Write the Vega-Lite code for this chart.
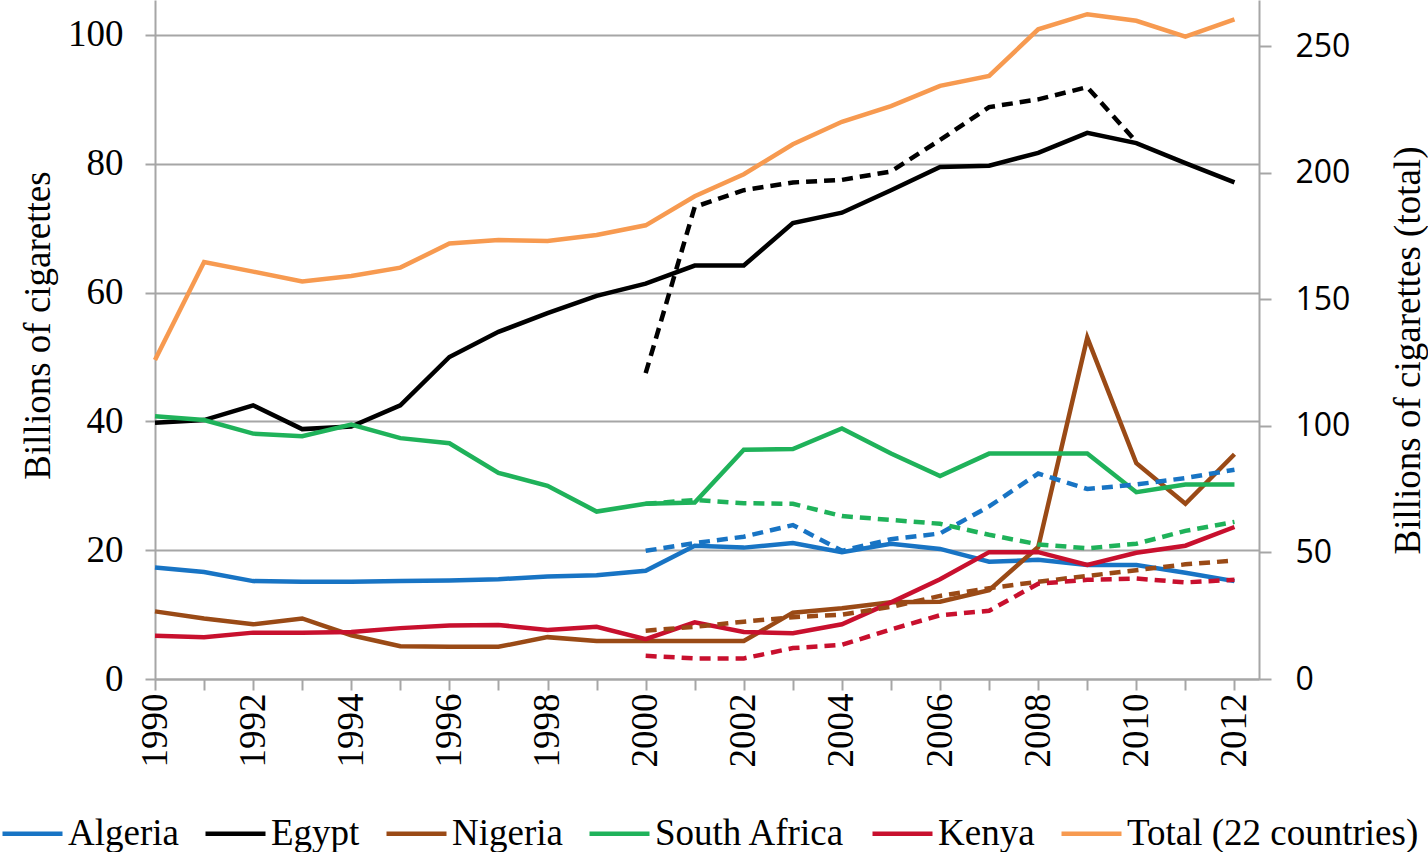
{
  "$schema": "https://vega.github.io/schema/vega-lite/v6.json",
  "autosize": "none",
  "width": 1104,
  "height": 679,
  "padding": {"left": 155, "top": 0, "right": 169, "bottom": 173},
  "background": "white",
  "config": {
    "view": {"stroke": null},
    "axis": {
      "domainColor": "#A6A6A6",
      "domainWidth": 2,
      "tickColor": "#A6A6A6",
      "tickWidth": 2,
      "gridColor": "#A6A6A6",
      "gridWidth": 2,
      "labelColor": "black",
      "titleColor": "black",
      "labelFont": "Liberation Serif",
      "titleFont": "Liberation Serif",
      "labelFontSize": 37,
      "titleFontSize": 37,
      "titleFontWeight": "normal"
    },
    "legend": {
      "orient": "none",
      "legendX": -155,
      "legendY": 801,
      "direction": "horizontal",
      "padding": 0,
      "symbolType": "stroke",
      "symbolSize": 3600,
      "symbolStrokeWidth": 4.5,
      "labelFont": "Liberation Serif",
      "labelFontSize": 37,
      "labelColor": "black",
      "labelOffset": 3,
      "labelLimit": 0,
      "columnPadding": 17,
      "title": null
    }
  },
  "data": {
    "values": [
      {"year": 1990, "series": "Algeria", "kind": "solid", "value": 17.3},
      {"year": 1991, "series": "Algeria", "kind": "solid", "value": 16.6},
      {"year": 1992, "series": "Algeria", "kind": "solid", "value": 15.2},
      {"year": 1993, "series": "Algeria", "kind": "solid", "value": 15.1},
      {"year": 1994, "series": "Algeria", "kind": "solid", "value": 15.1},
      {"year": 1995, "series": "Algeria", "kind": "solid", "value": 15.2},
      {"year": 1996, "series": "Algeria", "kind": "solid", "value": 15.3},
      {"year": 1997, "series": "Algeria", "kind": "solid", "value": 15.5},
      {"year": 1998, "series": "Algeria", "kind": "solid", "value": 15.9},
      {"year": 1999, "series": "Algeria", "kind": "solid", "value": 16.1},
      {"year": 2000, "series": "Algeria", "kind": "solid", "value": 16.8},
      {"year": 2001, "series": "Algeria", "kind": "solid", "value": 20.7},
      {"year": 2002, "series": "Algeria", "kind": "solid", "value": 20.4},
      {"year": 2003, "series": "Algeria", "kind": "solid", "value": 21.1},
      {"year": 2004, "series": "Algeria", "kind": "solid", "value": 19.7},
      {"year": 2005, "series": "Algeria", "kind": "solid", "value": 21.0},
      {"year": 2006, "series": "Algeria", "kind": "solid", "value": 20.2},
      {"year": 2007, "series": "Algeria", "kind": "solid", "value": 18.2},
      {"year": 2008, "series": "Algeria", "kind": "solid", "value": 18.5},
      {"year": 2009, "series": "Algeria", "kind": "solid", "value": 17.7},
      {"year": 2010, "series": "Algeria", "kind": "solid", "value": 17.7},
      {"year": 2011, "series": "Algeria", "kind": "solid", "value": 16.5},
      {"year": 2012, "series": "Algeria", "kind": "solid", "value": 15.2},
      {"year": 2000, "series": "Algeria", "kind": "dashed", "value": 19.9},
      {"year": 2001, "series": "Algeria", "kind": "dashed", "value": 21.1},
      {"year": 2002, "series": "Algeria", "kind": "dashed", "value": 22.1},
      {"year": 2003, "series": "Algeria", "kind": "dashed", "value": 23.9},
      {"year": 2004, "series": "Algeria", "kind": "dashed", "value": 19.9},
      {"year": 2005, "series": "Algeria", "kind": "dashed", "value": 21.7},
      {"year": 2006, "series": "Algeria", "kind": "dashed", "value": 22.6},
      {"year": 2007, "series": "Algeria", "kind": "dashed", "value": 26.8},
      {"year": 2008, "series": "Algeria", "kind": "dashed", "value": 31.9},
      {"year": 2009, "series": "Algeria", "kind": "dashed", "value": 29.5},
      {"year": 2010, "series": "Algeria", "kind": "dashed", "value": 30.2},
      {"year": 2011, "series": "Algeria", "kind": "dashed", "value": 31.2},
      {"year": 2012, "series": "Algeria", "kind": "dashed", "value": 32.5},
      {"year": 1990, "series": "Egypt", "kind": "solid", "value": 39.8},
      {"year": 1991, "series": "Egypt", "kind": "solid", "value": 40.2},
      {"year": 1992, "series": "Egypt", "kind": "solid", "value": 42.5},
      {"year": 1993, "series": "Egypt", "kind": "solid", "value": 38.8},
      {"year": 1994, "series": "Egypt", "kind": "solid", "value": 39.2},
      {"year": 1995, "series": "Egypt", "kind": "solid", "value": 42.5},
      {"year": 1996, "series": "Egypt", "kind": "solid", "value": 50.0},
      {"year": 1997, "series": "Egypt", "kind": "solid", "value": 53.9},
      {"year": 1998, "series": "Egypt", "kind": "solid", "value": 56.8},
      {"year": 1999, "series": "Egypt", "kind": "solid", "value": 59.5},
      {"year": 2000, "series": "Egypt", "kind": "solid", "value": 61.4},
      {"year": 2001, "series": "Egypt", "kind": "solid", "value": 64.2},
      {"year": 2002, "series": "Egypt", "kind": "solid", "value": 64.2},
      {"year": 2003, "series": "Egypt", "kind": "solid", "value": 70.8},
      {"year": 2004, "series": "Egypt", "kind": "solid", "value": 72.4},
      {"year": 2005, "series": "Egypt", "kind": "solid", "value": 75.9},
      {"year": 2006, "series": "Egypt", "kind": "solid", "value": 79.5},
      {"year": 2007, "series": "Egypt", "kind": "solid", "value": 79.7},
      {"year": 2008, "series": "Egypt", "kind": "solid", "value": 81.7},
      {"year": 2009, "series": "Egypt", "kind": "solid", "value": 84.8},
      {"year": 2010, "series": "Egypt", "kind": "solid", "value": 83.2},
      {"year": 2011, "series": "Egypt", "kind": "solid", "value": 80.1},
      {"year": 2012, "series": "Egypt", "kind": "solid", "value": 77.1},
      {"year": 2000, "series": "Egypt", "kind": "dashed", "value": 47.5},
      {"year": 2001, "series": "Egypt", "kind": "dashed", "value": 73.3},
      {"year": 2002, "series": "Egypt", "kind": "dashed", "value": 75.9},
      {"year": 2003, "series": "Egypt", "kind": "dashed", "value": 77.1},
      {"year": 2004, "series": "Egypt", "kind": "dashed", "value": 77.5},
      {"year": 2005, "series": "Egypt", "kind": "dashed", "value": 78.8},
      {"year": 2006, "series": "Egypt", "kind": "dashed", "value": 83.7},
      {"year": 2007, "series": "Egypt", "kind": "dashed", "value": 88.8},
      {"year": 2008, "series": "Egypt", "kind": "dashed", "value": 90.0},
      {"year": 2009, "series": "Egypt", "kind": "dashed", "value": 91.9},
      {"year": 2010, "series": "Egypt", "kind": "dashed", "value": 83.4},
      {"year": 1990, "series": "Nigeria", "kind": "solid", "value": 10.5},
      {"year": 1991, "series": "Nigeria", "kind": "solid", "value": 9.4},
      {"year": 1992, "series": "Nigeria", "kind": "solid", "value": 8.5},
      {"year": 1993, "series": "Nigeria", "kind": "solid", "value": 9.4},
      {"year": 1994, "series": "Nigeria", "kind": "solid", "value": 6.8},
      {"year": 1995, "series": "Nigeria", "kind": "solid", "value": 5.1},
      {"year": 1996, "series": "Nigeria", "kind": "solid", "value": 5.0},
      {"year": 1997, "series": "Nigeria", "kind": "solid", "value": 5.0},
      {"year": 1998, "series": "Nigeria", "kind": "solid", "value": 6.5},
      {"year": 1999, "series": "Nigeria", "kind": "solid", "value": 5.9},
      {"year": 2000, "series": "Nigeria", "kind": "solid", "value": 5.9},
      {"year": 2001, "series": "Nigeria", "kind": "solid", "value": 5.9},
      {"year": 2002, "series": "Nigeria", "kind": "solid", "value": 5.9},
      {"year": 2003, "series": "Nigeria", "kind": "solid", "value": 10.3},
      {"year": 2004, "series": "Nigeria", "kind": "solid", "value": 11.0},
      {"year": 2005, "series": "Nigeria", "kind": "solid", "value": 11.9},
      {"year": 2006, "series": "Nigeria", "kind": "solid", "value": 12.0},
      {"year": 2007, "series": "Nigeria", "kind": "solid", "value": 13.8},
      {"year": 2008, "series": "Nigeria", "kind": "solid", "value": 20.5},
      {"year": 2009, "series": "Nigeria", "kind": "solid", "value": 53.0},
      {"year": 2010, "series": "Nigeria", "kind": "solid", "value": 33.5},
      {"year": 2011, "series": "Nigeria", "kind": "solid", "value": 27.2},
      {"year": 2012, "series": "Nigeria", "kind": "solid", "value": 34.9},
      {"year": 2000, "series": "Nigeria", "kind": "dashed", "value": 7.5},
      {"year": 2001, "series": "Nigeria", "kind": "dashed", "value": 8.1},
      {"year": 2002, "series": "Nigeria", "kind": "dashed", "value": 8.9},
      {"year": 2003, "series": "Nigeria", "kind": "dashed", "value": 9.6},
      {"year": 2004, "series": "Nigeria", "kind": "dashed", "value": 10.0},
      {"year": 2005, "series": "Nigeria", "kind": "dashed", "value": 11.2},
      {"year": 2006, "series": "Nigeria", "kind": "dashed", "value": 12.9},
      {"year": 2007, "series": "Nigeria", "kind": "dashed", "value": 14.1},
      {"year": 2008, "series": "Nigeria", "kind": "dashed", "value": 15.1},
      {"year": 2009, "series": "Nigeria", "kind": "dashed", "value": 16.0},
      {"year": 2010, "series": "Nigeria", "kind": "dashed", "value": 16.9},
      {"year": 2011, "series": "Nigeria", "kind": "dashed", "value": 17.8},
      {"year": 2012, "series": "Nigeria", "kind": "dashed", "value": 18.4},
      {"year": 1990, "series": "South Africa", "kind": "solid", "value": 40.8},
      {"year": 1991, "series": "South Africa", "kind": "solid", "value": 40.2},
      {"year": 1992, "series": "South Africa", "kind": "solid", "value": 38.1},
      {"year": 1993, "series": "South Africa", "kind": "solid", "value": 37.7},
      {"year": 1994, "series": "South Africa", "kind": "solid", "value": 39.5},
      {"year": 1995, "series": "South Africa", "kind": "solid", "value": 37.4},
      {"year": 1996, "series": "South Africa", "kind": "solid", "value": 36.6},
      {"year": 1997, "series": "South Africa", "kind": "solid", "value": 32.0},
      {"year": 1998, "series": "South Africa", "kind": "solid", "value": 30.0},
      {"year": 1999, "series": "South Africa", "kind": "solid", "value": 26.0},
      {"year": 2000, "series": "South Africa", "kind": "solid", "value": 27.2},
      {"year": 2001, "series": "South Africa", "kind": "solid", "value": 27.4},
      {"year": 2002, "series": "South Africa", "kind": "solid", "value": 35.6},
      {"year": 2003, "series": "South Africa", "kind": "solid", "value": 35.7},
      {"year": 2004, "series": "South Africa", "kind": "solid", "value": 38.9},
      {"year": 2005, "series": "South Africa", "kind": "solid", "value": 35.0},
      {"year": 2006, "series": "South Africa", "kind": "solid", "value": 31.5},
      {"year": 2007, "series": "South Africa", "kind": "solid", "value": 35.0},
      {"year": 2008, "series": "South Africa", "kind": "solid", "value": 35.0},
      {"year": 2009, "series": "South Africa", "kind": "solid", "value": 35.0},
      {"year": 2010, "series": "South Africa", "kind": "solid", "value": 29.0},
      {"year": 2011, "series": "South Africa", "kind": "solid", "value": 30.2},
      {"year": 2012, "series": "South Africa", "kind": "solid", "value": 30.2},
      {"year": 2000, "series": "South Africa", "kind": "dashed", "value": 27.2},
      {"year": 2001, "series": "South Africa", "kind": "dashed", "value": 27.8},
      {"year": 2002, "series": "South Africa", "kind": "dashed", "value": 27.3},
      {"year": 2003, "series": "South Africa", "kind": "dashed", "value": 27.2},
      {"year": 2004, "series": "South Africa", "kind": "dashed", "value": 25.3},
      {"year": 2005, "series": "South Africa", "kind": "dashed", "value": 24.7},
      {"year": 2006, "series": "South Africa", "kind": "dashed", "value": 24.1},
      {"year": 2007, "series": "South Africa", "kind": "dashed", "value": 22.4},
      {"year": 2008, "series": "South Africa", "kind": "dashed", "value": 20.9},
      {"year": 2009, "series": "South Africa", "kind": "dashed", "value": 20.3},
      {"year": 2010, "series": "South Africa", "kind": "dashed", "value": 21.0},
      {"year": 2011, "series": "South Africa", "kind": "dashed", "value": 23.0},
      {"year": 2012, "series": "South Africa", "kind": "dashed", "value": 24.4},
      {"year": 1990, "series": "Kenya", "kind": "solid", "value": 6.7},
      {"year": 1991, "series": "Kenya", "kind": "solid", "value": 6.5},
      {"year": 1992, "series": "Kenya", "kind": "solid", "value": 7.2},
      {"year": 1993, "series": "Kenya", "kind": "solid", "value": 7.2},
      {"year": 1994, "series": "Kenya", "kind": "solid", "value": 7.3},
      {"year": 1995, "series": "Kenya", "kind": "solid", "value": 7.9},
      {"year": 1996, "series": "Kenya", "kind": "solid", "value": 8.3},
      {"year": 1997, "series": "Kenya", "kind": "solid", "value": 8.4},
      {"year": 1998, "series": "Kenya", "kind": "solid", "value": 7.6},
      {"year": 1999, "series": "Kenya", "kind": "solid", "value": 8.1},
      {"year": 2000, "series": "Kenya", "kind": "solid", "value": 6.2},
      {"year": 2001, "series": "Kenya", "kind": "solid", "value": 8.8},
      {"year": 2002, "series": "Kenya", "kind": "solid", "value": 7.3},
      {"year": 2003, "series": "Kenya", "kind": "solid", "value": 7.1},
      {"year": 2004, "series": "Kenya", "kind": "solid", "value": 8.5},
      {"year": 2005, "series": "Kenya", "kind": "solid", "value": 11.9},
      {"year": 2006, "series": "Kenya", "kind": "solid", "value": 15.5},
      {"year": 2007, "series": "Kenya", "kind": "solid", "value": 19.7},
      {"year": 2008, "series": "Kenya", "kind": "solid", "value": 19.7},
      {"year": 2009, "series": "Kenya", "kind": "solid", "value": 17.7},
      {"year": 2010, "series": "Kenya", "kind": "solid", "value": 19.6},
      {"year": 2011, "series": "Kenya", "kind": "solid", "value": 20.7},
      {"year": 2012, "series": "Kenya", "kind": "solid", "value": 23.6},
      {"year": 2000, "series": "Kenya", "kind": "dashed", "value": 3.6},
      {"year": 2001, "series": "Kenya", "kind": "dashed", "value": 3.2},
      {"year": 2002, "series": "Kenya", "kind": "dashed", "value": 3.2},
      {"year": 2003, "series": "Kenya", "kind": "dashed", "value": 4.8},
      {"year": 2004, "series": "Kenya", "kind": "dashed", "value": 5.3},
      {"year": 2005, "series": "Kenya", "kind": "dashed", "value": 7.7},
      {"year": 2006, "series": "Kenya", "kind": "dashed", "value": 9.9},
      {"year": 2007, "series": "Kenya", "kind": "dashed", "value": 10.6},
      {"year": 2008, "series": "Kenya", "kind": "dashed", "value": 14.8},
      {"year": 2009, "series": "Kenya", "kind": "dashed", "value": 15.4},
      {"year": 2010, "series": "Kenya", "kind": "dashed", "value": 15.6},
      {"year": 2011, "series": "Kenya", "kind": "dashed", "value": 15.0},
      {"year": 2012, "series": "Kenya", "kind": "dashed", "value": 15.4},
      {"year": 1990, "series": "Total (22 countries)", "kind": "total", "value": 126.0},
      {"year": 1991, "series": "Total (22 countries)", "kind": "total", "value": 164.7},
      {"year": 1992, "series": "Total (22 countries)", "kind": "total", "value": 160.9},
      {"year": 1993, "series": "Total (22 countries)", "kind": "total", "value": 157.0},
      {"year": 1994, "series": "Total (22 countries)", "kind": "total", "value": 159.2},
      {"year": 1995, "series": "Total (22 countries)", "kind": "total", "value": 162.5},
      {"year": 1996, "series": "Total (22 countries)", "kind": "total", "value": 172.0},
      {"year": 1997, "series": "Total (22 countries)", "kind": "total", "value": 173.4},
      {"year": 1998, "series": "Total (22 countries)", "kind": "total", "value": 173.0},
      {"year": 1999, "series": "Total (22 countries)", "kind": "total", "value": 175.4},
      {"year": 2000, "series": "Total (22 countries)", "kind": "total", "value": 179.2},
      {"year": 2001, "series": "Total (22 countries)", "kind": "total", "value": 190.7},
      {"year": 2002, "series": "Total (22 countries)", "kind": "total", "value": 199.4},
      {"year": 2003, "series": "Total (22 countries)", "kind": "total", "value": 211.2},
      {"year": 2004, "series": "Total (22 countries)", "kind": "total", "value": 220.1},
      {"year": 2005, "series": "Total (22 countries)", "kind": "total", "value": 226.3},
      {"year": 2006, "series": "Total (22 countries)", "kind": "total", "value": 234.3},
      {"year": 2007, "series": "Total (22 countries)", "kind": "total", "value": 238.2},
      {"year": 2008, "series": "Total (22 countries)", "kind": "total", "value": 256.6},
      {"year": 2009, "series": "Total (22 countries)", "kind": "total", "value": 262.6},
      {"year": 2010, "series": "Total (22 countries)", "kind": "total", "value": 260.0},
      {"year": 2011, "series": "Total (22 countries)", "kind": "total", "value": 253.7},
      {"year": 2012, "series": "Total (22 countries)", "kind": "total", "value": 260.5}
    ]
  },
  "encoding": {
    "x": {
      "field": "year",
      "type": "quantitative",
      "scale": {"domain": [1990, 2012.5], "nice": false, "zero": false},
      "axis": {
        "title": null,
        "grid": false,
        "values": [1990, 1991, 1992, 1993, 1994, 1995, 1996, 1997, 1998, 1999, 2000, 2001, 2002, 2003, 2004, 2005, 2006, 2007, 2008, 2009, 2010, 2011, 2012],
        "format": "d",
        "labelExpr": "datum.value % 2 === 0 ? datum.label : ''",
        "labelAngle": 270,
        "labelAlign": "right",
        "labelBaseline": "middle",
        "labelPadding": 3,
        "tickSize": 11,
        "labelOverlap": false
      }
    },
    "color": {
      "field": "series",
      "type": "nominal",
      "scale": {
        "domain": ["Algeria", "Egypt", "Nigeria", "South Africa", "Kenya", "Total (22 countries)"],
        "range": ["#1874C4", "#000000", "#9A4A16", "#1FB25A", "#C8102E", "#F79A50"]
      },
      "legend": {"title": null}
    }
  },
  "layer": [
    {
      "layer": [
        {
          "transform": [{"filter": "datum.kind === 'solid'"}],
          "mark": {"type": "line", "strokeWidth": 4.5},
          "encoding": {
            "y": {
              "field": "value",
              "type": "quantitative",
              "scale": {"domain": [0, 105.43], "nice": false},
              "axis": {
                "title": "Billions of cigarettes",
                "values": [0, 20, 40, 60, 80, 100],
                "grid": true,
                "tickSize": 10,
                "labelPadding": 22,
                "titleX": -117,
                "titleY": 325,
                "titleAngle": 270,
                "titleAlign": "center",
                "titleBaseline": "middle"
              }
            }
          }
        },
        {
          "transform": [{"filter": "datum.kind === 'dashed'"}],
          "mark": {"type": "line", "strokeWidth": 4.5, "strokeDash": [11, 7]},
          "encoding": {
            "y": {"field": "value", "type": "quantitative"}
          }
        }
      ]
    },
    {
      "transform": [{"filter": "datum.kind === 'total'"}],
      "mark": {"type": "line", "strokeWidth": 4.5},
      "encoding": {
        "y": {
          "field": "value",
          "type": "quantitative",
          "scale": {"domain": [0, 268.2], "nice": false},
          "axis": {
            "orient": "right",
            "title": "Billions of cigarettes (total)",
            "values": [0, 50, 100, 150, 200, 250],
            "grid": false,
            "tickSize": 12,
            "labelPadding": 24,
            "labelFont": "Open Sans",
            "labelFontSize": 32,
            "titleX": 149,
            "titleY": 350,
            "titleAngle": 270,
            "titleAlign": "center",
            "titleBaseline": "middle"
          }
        }
      }
    }
  ],
  "resolve": {"scale": {"y": "independent"}}
}
